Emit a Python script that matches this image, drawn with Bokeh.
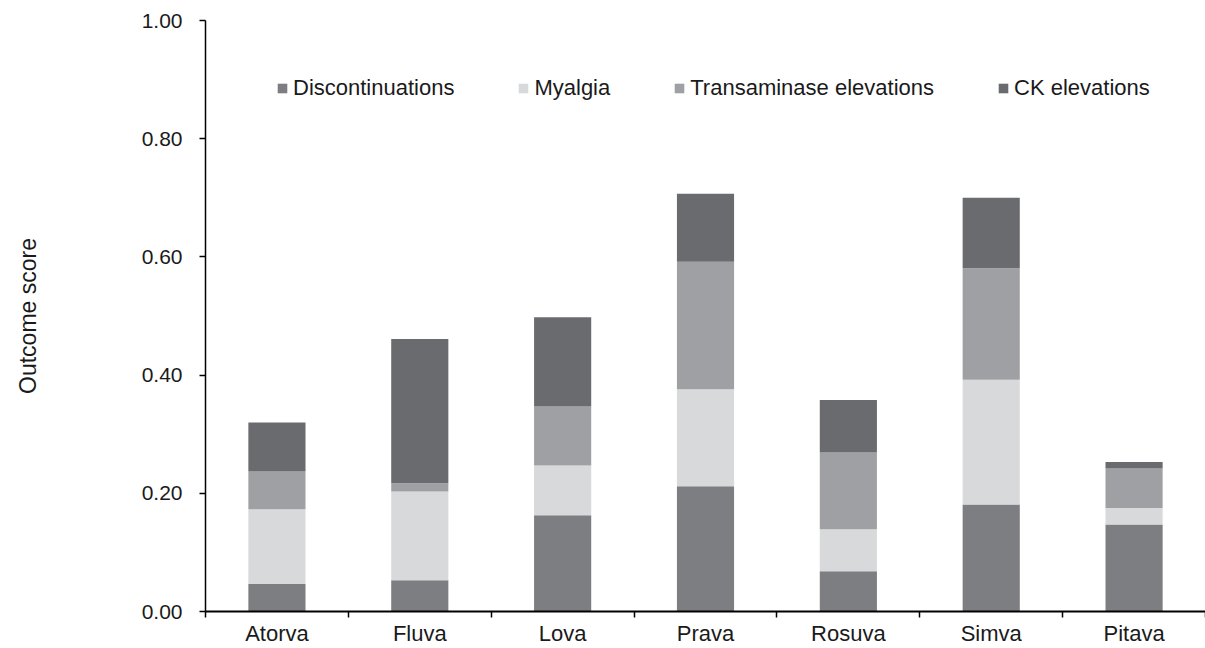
from bokeh.plotting import figure
from bokeh.models import ColumnDataSource, FixedTicker, Legend, LegendItem, Range1d, NumeralTickFormatter
from bokeh.embed import file_html
from bokeh.resources import INLINE

categories = ["Atorva", "Fluva", "Lova", "Prava", "Rosuva", "Simva", "Pitava"]
discontinuations = [0.047, 0.053, 0.163, 0.212, 0.068, 0.181, 0.147]
myalgia = [0.126, 0.150, 0.084, 0.164, 0.071, 0.211, 0.028]
transaminase = [0.064, 0.014, 0.100, 0.216, 0.130, 0.189, 0.067]
ck = [0.083, 0.244, 0.151, 0.115, 0.089, 0.119, 0.011]

series = ["Discontinuations", "Myalgia", "Transaminase elevations", "CK elevations"]
colors = ["#7d7e82", "#d8d9db", "#9fa0a4", "#6a6b6f"]
yticks = [0.0, 0.2, 0.4, 0.6, 0.8, 1.0]

xpos = list(range(1, len(categories) + 1))
src = ColumnDataSource(dict(x=xpos, Discontinuations=discontinuations, Myalgia=myalgia,
                            **{"Transaminase elevations": transaminase, "CK elevations": ck}))

FONT = "Liberation Sans"
FS = "21px"

p = figure(width=1205, height=648, output_backend="svg", toolbar_location=None,
           x_range=Range1d(0.5, len(categories) + 0.5), y_range=Range1d(0, 1.0),
           min_border_left=205, min_border_right=0, min_border_top=20, min_border_bottom=34)
p.outline_line_color = None
p.xgrid.visible = False
p.ygrid.visible = False

renderers = p.vbar_stack(series, x="x", width=0.4, source=src, color=colors, line_color=None)

# y axis
ya = p.yaxis[0]
ya.ticker = FixedTicker(ticks=yticks)
ya.formatter = NumeralTickFormatter(format="0.00")
ya.axis_label = "Outcome score"
ya.axis_label_text_font = FONT
ya.axis_label_text_font_size = "23px"
ya.axis_label_text_font_style = "normal"
ya.axis_label_text_color = "#1a1a1a"
ya.axis_label_standoff = 98
ya.major_label_text_font = FONT
ya.major_label_text_font_size = FS
ya.major_label_text_color = "#1a1a1a"
ya.major_label_standoff = 17
ya.major_tick_out = 6
ya.major_tick_in = 0
ya.minor_tick_out = 0
ya.minor_tick_in = 0
ya.axis_line_width = 1.5
ya.major_tick_line_width = 1.5
ya.axis_line_color = "black"

# x axis
xa = p.xaxis[0]
xa.ticker = FixedTicker(ticks=xpos, minor_ticks=[x + 0.5 for x in [0] + xpos])
xa.major_label_overrides = {x: c for x, c in zip(xpos, categories)}
xa.major_tick_out = 0
xa.major_tick_in = 0
xa.minor_tick_out = 6
xa.minor_tick_in = 0
xa.minor_tick_line_color = "black"
xa.minor_tick_line_width = 1.5
xa.axis_line_width = 2
xa.axis_line_color = "black"
xa.major_label_text_font = FONT
xa.major_label_text_font_size = "22px"
xa.major_label_text_color = "#1a1a1a"
xa.major_label_standoff = 3

legend = Legend(items=[LegendItem(label=s, renderers=[r]) for s, r in zip(series, renderers)],
                orientation="horizontal", location=(71, 510),
                glyph_width=12, glyph_height=12, label_standoff=5, spacing=63,
                padding=0, margin=0, border_line_color=None, background_fill_alpha=0,
                label_text_font=FONT, label_text_font_size="22px", label_text_color="#1a1a1a",
                label_height=22)
p.add_layout(legend)

open("out.html", "w").write(file_html(p, INLINE))
